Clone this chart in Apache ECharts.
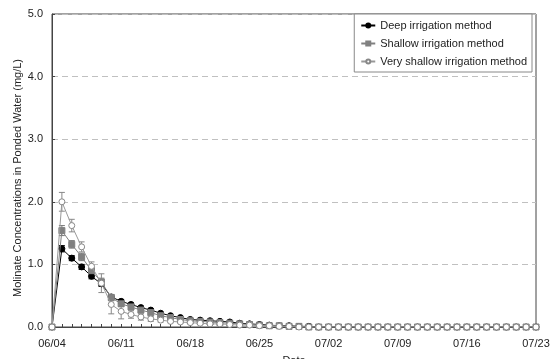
<!DOCTYPE html>
<html>
<head>
<meta charset="utf-8">
<script src="https://cdn.jsdelivr.net/npm/echarts@6/dist/echarts.min.js"></script>
<style>
  html, body { margin: 0; padding: 0; background: #fff; }
  #chart { width: 552px; height: 359px; }
</style>
</head>
<body>
<div id="chart"></div>
<script>
// sampling dates (daily, 06/04 - 07/23)
var dates = [
  "06/04", "06/05", "06/06", "06/07", "06/08", "06/09", "06/10", "06/11", "06/12", "06/13",
  "06/14", "06/15", "06/16", "06/17", "06/18", "06/19", "06/20", "06/21", "06/22", "06/23",
  "06/24", "06/25", "06/26", "06/27", "06/28", "06/29", "06/30", "07/01", "07/02", "07/03",
  "07/04", "07/05", "07/06", "07/07", "07/08", "07/09", "07/10", "07/11", "07/12", "07/13",
  "07/14", "07/15", "07/16", "07/17", "07/18", "07/19", "07/20", "07/21", "07/22", "07/23"
];

var yTicks = [0, 1, 2, 3, 4, 5];
var yTitle = "Molinate Concentrations in Ponded Water (mg/L)";

// mean concentrations (mg/L)
var deep = [
  0, 1.25, 1.10, 0.96, 0.81, 0.69, 0.48, 0.41, 0.36, 0.31,
  0.27, 0.22, 0.18, 0.15, 0.12, 0.11, 0.10, 0.09, 0.08, 0.06,
  0.05, 0.04, 0.03, 0.02, 0.02, 0.01, 0.01, 0, 0, 0,
  0, 0, 0, 0, 0, 0, 0, 0, 0, 0,
  0, 0, 0, 0, 0, 0, 0, 0, 0, 0
];
var shallow = [
  0, 1.54, 1.32, 1.12, 0.90, 0.72, 0.47, 0.37, 0.32, 0.27,
  0.23, 0.18, 0.15, 0.12, 0.10, 0.09, 0.08, 0.07, 0.06, 0.05,
  0.04, 0.03, 0.02, 0.02, 0.01, 0.01, 0, 0, 0, 0,
  0, 0, 0, 0, 0, 0, 0, 0, 0, 0,
  0, 0, 0, 0, 0, 0, 0, 0, 0, 0
];
var veryShallow = [
  0, 2.00, 1.62, 1.28, 0.97, 0.70, 0.36, 0.25, 0.20, 0.16,
  0.13, 0.11, 0.09, 0.08, 0.07, 0.06, 0.05, 0.05, 0.04, 0.03,
  0.03, 0.02, 0.02, 0.01, 0.01, 0, 0, 0, 0, 0,
  0, 0, 0, 0, 0, 0, 0, 0, 0, 0,
  0, 0, 0, 0, 0, 0, 0, 0, 0, 0
];

// standard deviations (error bars)
var deepErr = [
  0, 0.05, 0.04, 0.04, 0.04, 0.04, 0.03, 0.03, 0.02, 0.02,
  0.02, 0.01, 0.01, 0.01, 0.01, 0.01, 0.01, 0, 0, 0,
  0, 0, 0, 0, 0, 0, 0, 0, 0, 0,
  0, 0, 0, 0, 0, 0, 0, 0, 0, 0,
  0, 0, 0, 0, 0, 0, 0, 0, 0, 0
];
var shallowErr = [
  0, 0.08, 0.06, 0.06, 0.05, 0.06, 0.05, 0.04, 0.03, 0.03,
  0.02, 0.02, 0.01, 0.01, 0.01, 0.01, 0.01, 0, 0, 0,
  0, 0, 0, 0, 0, 0, 0, 0, 0, 0,
  0, 0, 0, 0, 0, 0, 0, 0, 0, 0,
  0, 0, 0, 0, 0, 0, 0, 0, 0, 0
];
var veryShallowErr = [
  0, 0.15, 0.10, 0.08, 0.07, 0.15, 0.15, 0.12, 0.06, 0.05,
  0.04, 0.03, 0.02, 0.02, 0.01, 0.01, 0.01, 0, 0, 0,
  0, 0, 0, 0, 0, 0, 0, 0, 0, 0,
  0, 0, 0, 0, 0, 0, 0, 0, 0, 0,
  0, 0, 0, 0, 0, 0, 0, 0, 0, 0
];

var FONT = "Liberation Sans";

function errData(vals, errs) {
  return vals.map(function (v, i) { return [i, v, errs[i]]; });
}

function errSeries(vals, errs, color) {
  return {
    type: "custom",
    data: errData(vals, errs),
    encode: { x: 0, y: 1 },
    z: 1,
    silent: true,
    renderItem: function (params, api) {
      var i = api.value(0), v = api.value(1), e = api.value(2);
      if (!e) return null;
      var top = api.coord([i, v + e]);
      var bot = api.coord([i, v - e]);
      var hw = 3;
      var st = { stroke: color, lineWidth: 1 };
      return {
        type: "group",
        children: [
          { type: "line", shape: { x1: top[0], y1: top[1], x2: bot[0], y2: bot[1] }, style: st },
          { type: "line", shape: { x1: top[0] - hw, y1: top[1], x2: top[0] + hw, y2: top[1] }, style: st },
          { type: "line", shape: { x1: bot[0] - hw, y1: bot[1], x2: bot[0] + hw, y2: bot[1] }, style: st }
        ]
      };
    }
  };
}

var chart = echarts.init(document.getElementById("chart"));
chart.setOption({
  animation: false,
  textStyle: { fontFamily: FONT },
  grid: {
    left: 52, right: 16, top: 14, bottom: 32,
    containLabel: false,
    outerBoundsMode: "none",
    show: true,
    borderColor: "#444",
    borderWidth: 1
  },
  // y-axis title, placed like the original (slightly below the plot centre)
  graphic: [{
    type: "text",
    x: 18,
    y: 178,
    rotation: Math.PI / 2,
    style: {
      text: yTitle,
      fontFamily: FONT,
      fontSize: 11,
      fill: "#222",
      align: "center",
      verticalAlign: "middle"
    }
  }],
  legend: {
    data: ["Deep irrigation method", "Shallow irrigation method", "Very shallow irrigation method"],
    orient: "vertical",
    right: 20,
    top: 14,
    itemWidth: 14,
    itemHeight: 5,
    itemGap: 7,
    padding: [6, 5, 5, 6],
    backgroundColor: "#fff",
    borderColor: "#888",
    borderWidth: 1,
    textStyle: { fontFamily: FONT, fontSize: 11, color: "#222" }
  },
  xAxis: {
    type: "category",
    data: dates,
    boundaryGap: false,
    name: "Date",
    nameLocation: "middle",
    nameGap: 28,
    nameTextStyle: { fontFamily: FONT, fontSize: 11, color: "#222" },
    axisLine: { lineStyle: { color: "#444", width: 1 } },
    axisTick: { show: true, inside: true, length: 3, interval: 0, lineStyle: { color: "#444" } },
    axisLabel: { interval: 6, margin: 11, fontSize: 11, color: "#222", fontFamily: FONT },
    splitLine: { show: false }
  },
  yAxis: {
    type: "value",
    min: yTicks[0],
    max: yTicks[yTicks.length - 1],
    interval: 1,
    axisLine: { show: true, lineStyle: { color: "#444", width: 1 } },
    axisTick: { show: true, inside: true, length: 3, lineStyle: { color: "#444" } },
    axisLabel: {
      margin: 9, fontSize: 11, color: "#222", fontFamily: FONT,
      formatter: function (v) { return v.toFixed(1); }
    },
    splitLine: { show: true, lineStyle: { color: "#c0c0c0", type: [6, 4], width: 1 } }
  },
  series: [
    errSeries(deep, deepErr, "#000"),
    errSeries(shallow, shallowErr, "#777"),
    errSeries(veryShallow, veryShallowErr, "#888"),
    {
      name: "Deep irrigation method",
      type: "line",
      data: deep,
      symbol: "circle",
      symbolSize: 6,
      z: 3,
      lineStyle: { color: "#000", width: 1 },
      itemStyle: { color: "#000", borderColor: "#000", borderWidth: 1 }
    },
    {
      name: "Shallow irrigation method",
      type: "line",
      data: shallow,
      symbol: "rect",
      symbolSize: 6,
      z: 4,
      lineStyle: { color: "#808080", width: 1 },
      itemStyle: { color: "#808080", borderColor: "#808080", borderWidth: 1 }
    },
    {
      name: "Very shallow irrigation method",
      type: "line",
      data: veryShallow,
      symbol: "circle",
      symbolSize: 6,
      z: 5,
      lineStyle: { color: "#999", width: 1 },
      itemStyle: { color: "#fff", borderColor: "#888", borderWidth: 1 }
    }
  ]
});
</script>
</body>
</html>
